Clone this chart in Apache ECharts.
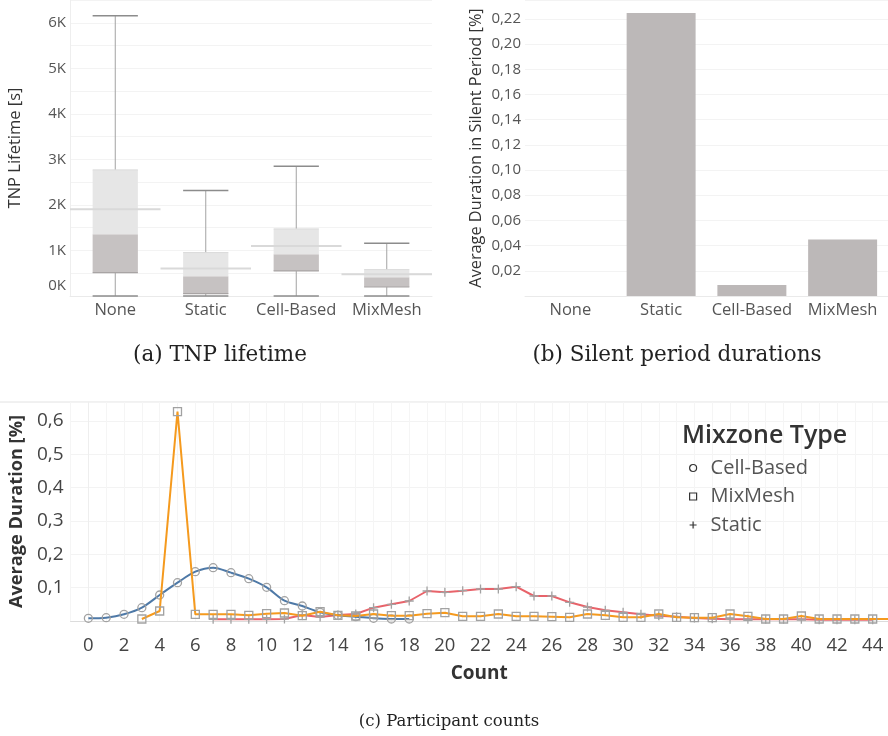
<!DOCTYPE html>
<html>
<head>
<meta charset="utf-8">
<script src="https://cdn.jsdelivr.net/npm/echarts@6/dist/echarts.min.js"></script>
<style>
html, body { margin: 0; padding: 0; background: #fff; }
#main { width: 888px; height: 736px; }
</style>
</head>
<body>
<div id="main"></div>
<script>
// (a) TNP lifetime box plot
const mixzones = ['None', 'Static', 'Cell-Based', 'MixMesh'];
const lowWhisker = [0, 0, 0, 0];
const q1 = [514, 52, 550, 198];
const median = [1356, 433, 916, 410];
const q3 = [2769, 953, 1473, 579];
const highWhisker = [6154, 2316, 2850, 1158];
const refLine = [1905, 602, 1099, 476];

// (b) silent period durations
const silentDuration = [0, 0.2247, 0.0087, 0.0448];

// (c) participant counts
const cellCounts = [0, 1, 2, 3, 4, 5, 6, 7, 8, 9, 10, 11, 12, 13, 14, 15, 16, 17, 18];
const cellValues = [0.008, 0.010, 0.020, 0.040, 0.078, 0.115, 0.148, 0.160, 0.145, 0.127, 0.101, 0.061, 0.045, 0.026, 0.017, 0.013, 0.008, 0.006, 0.006];
const meshCounts = [3, 4, 5, 6, 7, 8, 9, 10, 11, 12, 13, 14, 15, 16, 17, 18, 19, 20, 21, 22, 23, 24, 25, 26, 27, 28, 29, 30, 31, 32, 33, 34, 35, 36, 37, 38, 39, 40, 41, 42, 43, 44, 45];
const meshValues = [0.006, 0.030, 0.628, 0.020, 0.020, 0.020, 0.017, 0.022, 0.024, 0.016, 0.028, 0.017, 0.015, 0.021, 0.016, 0.016, 0.022, 0.025, 0.014, 0.014, 0.021, 0.014, 0.014, 0.013, 0.011, 0.021, 0.017, 0.011, 0.011, 0.021, 0.011, 0.010, 0.010, 0.021, 0.014, 0.006, 0.006, 0.015, 0.006, 0.006, 0.006, 0.006, 0.006];
const staticCounts = [7, 8, 9, 10, 11, 12, 13, 14, 15, 16, 17, 18, 19, 20, 21, 22, 23, 24, 25, 26, 27, 28, 29, 30, 31, 32, 33, 34, 35, 36, 37, 38, 39, 40, 41, 42, 43, 44];
const staticValues = [0.005, 0.005, 0.005, 0.005, 0.006, 0.018, 0.012, 0.018, 0.021, 0.040, 0.050, 0.060, 0.090, 0.086, 0.091, 0.096, 0.096, 0.103, 0.075, 0.075, 0.056, 0.042, 0.032, 0.026, 0.020, 0.016, 0.013, 0.009, 0.007, 0.005, 0.005, 0.005, 0.005, 0.005, 0.004, 0.004, 0.004, 0.004];

const FONT = 'Open Sans';
const SERIF = 'DejaVu Serif';

function pairs(xs, ys) {
  return xs.map(function (x, i) { return [x, ys[i]]; });
}

function renderBox(params, api) {
  var i = api.value(0);
  var c = api.coord([i, 0]);
  var band = api.size([1, 0])[0];
  var w = band * 0.5;
  var x0 = c[0] - w / 2;
  var y = function (v) { return api.coord([i, v])[1]; };
  var yLow = y(api.value(1)), yQ1 = y(api.value(2)), yMed = y(api.value(3));
  var yQ3 = y(api.value(4)), yHigh = y(api.value(5)), yRef = y(api.value(6));
  var line = function (x1, y1, x2, y2, color, width) {
    return { type: 'line', shape: { x1: x1, y1: y1, x2: x2, y2: y2 }, style: { stroke: color, lineWidth: width } };
  };
  return {
    type: 'group',
    children: [
      { type: 'rect', shape: { x: x0, y: yMed, width: w, height: yQ1 - yMed }, style: { fill: '#c6c2c2' } },
      { type: 'rect', shape: { x: x0, y: yQ3, width: w, height: yMed - yQ3 }, style: { fill: '#e6e6e6' } },
      line(c[0], yQ3, c[0], yHigh, '#a3a3a3', 1),
      line(c[0], yQ1, c[0], yLow, '#a3a3a3', 1),
      line(x0, yHigh, x0 + w, yHigh, '#8c8c8c', 1.5),
      line(x0, yLow, x0 + w, yLow, '#8c8c8c', 1.5),
      line(x0, yQ1, x0 + w, yQ1, '#a8a4a4', 1.2),
      line(x0, yQ3, x0 + w, yQ3, '#dadada', 1),
      line(c[0] - band / 2, yRef, c[0] + band / 2, yRef, '#d9d9d9', 2)
    ]
  };
}

const boxData = mixzones.map(function (m, i) {
  return [i, lowWhisker[i], q1[i], median[i], q3[i], highWhisker[i], refLine[i]];
});

const plusPath = 'path://M4,0L4,8M0,4L8,4';
const markerStyle = { color: 'rgba(255,255,255,0)', borderColor: '#a2a2a2', borderWidth: 1.3 };
const legendIconStyle = { color: 'rgba(0,0,0,0)', borderColor: '#333', borderWidth: 1.2 };

var chart = echarts.init(document.getElementById('main'));
chart.setOption({
  animation: false,
  textStyle: { fontFamily: FONT },
  title: [
    { text: '(a) TNP lifetime', left: 215, top: 339, textAlign: 'center',
      textStyle: { fontFamily: SERIF, fontSize: 21.5, fontWeight: 'normal', color: '#222' } },
    { text: '(b) Silent period durations', left: 672, top: 339, textAlign: 'center',
      textStyle: { fontFamily: SERIF, fontSize: 21.5, fontWeight: 'normal', color: '#222' } },
    { text: '(c) Participant counts', left: 444, top: 708, textAlign: 'center',
      textStyle: { fontFamily: SERIF, fontSize: 16.5, fontWeight: 'normal', color: '#222' } },
    { text: 'Mixzone Type', left: 677, top: 418,
      textStyle: { fontFamily: FONT, fontSize: 25, fontWeight: 600, color: '#333' } }
  ],
  legend: {
    orient: 'vertical',
    left: 689,
    top: 457,
    padding: 0,
    itemWidth: 7,
    itemHeight: 7,
    itemGap: 6.5,
    textStyle: { fontFamily: FONT, fontSize: 20, color: '#555', lineHeight: 22, padding: [0, 0, 0, 9] },
    data: [
      { name: 'Cell-Based', icon: 'circle', itemStyle: legendIconStyle },
      { name: 'MixMesh', icon: 'rect', itemStyle: legendIconStyle },
      { name: 'Static', icon: plusPath, itemStyle: legendIconStyle }
    ]
  },
  graphic: [
    { type: 'line', shape: { x1: 0, y1: 402, x2: 888, y2: 402 }, style: { stroke: '#e2e2e2', lineWidth: 1 } }
  ],
  grid: [
    { left: 70, top: 0, width: 362, height: 296 },
    { left: 525, top: 0, width: 363, height: 296 },
    { left: 70, top: 402, width: 818, height: 219 }
  ],
  xAxis: [
    { gridIndex: 0, type: 'category', data: mixzones,
      axisLine: { lineStyle: { color: '#eaeaea' } }, axisTick: { show: false },
      axisLabel: { interval: 0, fontSize: 16.5, color: '#555', margin: 6 } },
    { gridIndex: 1, type: 'category', data: mixzones,
      axisLine: { lineStyle: { color: '#eaeaea' } }, axisTick: { show: false },
      axisLabel: { interval: 0, fontSize: 16.5, color: '#555', margin: 6 } },
    { gridIndex: 2, type: 'value', min: -1, max: 44.86, interval: 1,
      name: 'Count', nameLocation: 'middle', nameGap: 43,
      nameTextStyle: { fontSize: 19, fontWeight: 'bold', color: '#333' },
      axisLine: { lineStyle: { color: '#dcdcdc' } }, axisTick: { show: false },
      splitLine: { lineStyle: { color: '#f5f5f5' } },
      axisLabel: { fontSize: 18.5, color: '#444', margin: 15, showMaxLabel: false,
        formatter: function (v) { return (v >= 0 && v % 2 === 0) ? String(v) : ''; } } }
  ],
  yAxis: [
    { gridIndex: 0, type: 'value', min: 0, max: 6500, interval: 500,
      name: 'TNP Lifetime [s]', nameLocation: 'middle', nameGap: 46,
      nameTextStyle: { fontSize: 16.5, color: '#333' },
      axisLine: { show: true, lineStyle: { color: '#eeeeee' } }, axisTick: { show: false },
      splitLine: { lineStyle: { color: '#f3f3f3' } },
      axisLabel: { fontSize: 15, color: '#555', margin: 4, showMaxLabel: false,
        formatter: function (v) {
          if (v === 0) return '{z|0K}';
          return v % 1000 === 0 ? (v / 1000) + 'K' : '';
        },
        rich: { z: { fontSize: 15, color: '#555', fontFamily: FONT, padding: [0, 0, 20, 0] } } } },
    { gridIndex: 1, type: 'value', min: 0, max: 0.235, interval: 0.02,
      name: 'Average Duration in Silent Period [%]', nameLocation: 'middle', nameGap: 41,
      nameTextStyle: { fontSize: 16.3, color: '#333' },
      axisLine: { show: false }, axisTick: { show: false },
      splitLine: { lineStyle: { color: '#f3f3f3' } },
      axisLabel: { fontSize: 15, color: '#555', margin: 4, showMaxLabel: false,
        formatter: function (v) { return v === 0 ? '' : v.toFixed(2).replace('.', ','); } } },
    { gridIndex: 2, type: 'value', min: 0, max: 0.657, interval: 0.1,
      name: 'Average Duration [%]', nameLocation: 'middle', nameGap: 41,
      nameTextStyle: { fontSize: 18.2, fontWeight: 'bold', color: '#333' },
      axisLine: { show: true, lineStyle: { color: '#eeeeee' } }, axisTick: { show: false },
      splitLine: { lineStyle: { color: '#f3f3f3' } },
      axisLabel: { fontSize: 19, color: '#444', margin: 7, showMaxLabel: false,
        formatter: function (v) { return v === 0 ? '' : v.toFixed(1).replace('.', ','); } } }
  ],
  series: [
    { type: 'custom', xAxisIndex: 0, yAxisIndex: 0, renderItem: renderBox,
      encode: { x: 0, y: [1, 2, 3, 4, 5, 6] }, data: boxData, silent: true },
    { type: 'bar', xAxisIndex: 1, yAxisIndex: 1, data: silentDuration, barWidth: '76%',
      itemStyle: { color: '#bcb8b8' }, silent: true },
    { name: 'Static', type: 'line', xAxisIndex: 2, yAxisIndex: 2, data: pairs(staticCounts, staticValues),
      symbol: plusPath, symbolSize: 9, lineStyle: { color: '#e8636a', width: 2 },
      itemStyle: markerStyle, z: 2 },
    { name: 'Cell-Based', type: 'line', xAxisIndex: 2, yAxisIndex: 2, data: pairs(cellCounts, cellValues),
      symbol: 'circle', symbolSize: 8, smooth: 0.3, lineStyle: { color: '#4e79a7', width: 2 },
      itemStyle: markerStyle, z: 3 },
    { name: 'MixMesh', type: 'line', xAxisIndex: 2, yAxisIndex: 2, data: pairs(meshCounts, meshValues),
      symbol: 'rect', symbolSize: 8, lineStyle: { color: '#f59a1e', width: 2 },
      itemStyle: markerStyle, z: 4 }
  ]
});
</script>
</body>
</html>
